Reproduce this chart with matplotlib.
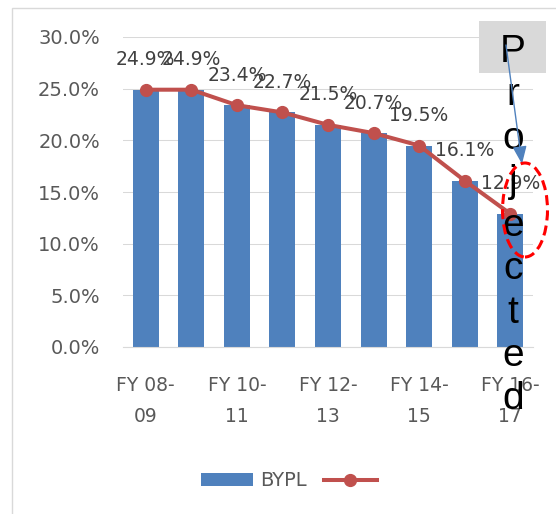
import matplotlib
matplotlib.use('Agg')
import matplotlib.pyplot as plt
from matplotlib.patches import Rectangle, Ellipse, FancyArrowPatch
from matplotlib.ticker import FuncFormatter

categories = ['FY 08-09', 'FY 09-10', 'FY 10-11', 'FY 11-12', 'FY 12-13',
              'FY 13-14', 'FY 14-15', 'FY 15-16', 'FY 16-17']
bypl_values = [24.9, 24.9, 23.4, 22.7, 21.5, 20.7, 19.5, 16.1, 12.9]
series_name = 'BYPL'
y_ticks = [0, 5, 10, 15, 20, 25, 30]
annotation_text = 'Projected'

W, H = 556, 514
fig = plt.figure(figsize=(W / 100, H / 100), dpi=100)


def fx(x):
    return x / W


def fy(y):
    return 1 - y / H


ax = fig.add_axes([fx(123), fy(347), (533 - 123) / W, (347 - 37) / H])
x = list(range(len(categories)))
bars = ax.bar(x, bypl_values, width=0.57, color='#4F81BD', zorder=2)
line, = ax.plot(x, bypl_values, color='#C0504D', lw=2.9, marker='o', ms=8.5, zorder=3)
for xi, v in zip(x, bypl_values):
    ax.annotate(f'{v:.1f}%', (xi, v), xytext=(0, 21.5), textcoords='offset points',
                ha='center', va='center', fontsize=13.5, color='#404040', zorder=4)

ax.set_xlim(-0.5, len(categories) - 0.5)
ax.set_ylim(0, 30)
ax.set_yticks(y_ticks)
ax.yaxis.set_major_formatter(FuncFormatter(lambda v, p: f'{v:.1f}%'))
ax.set_xticks(x[::2])
ax.set_xticklabels([c.replace('-', '-\n') for c in categories[::2]], linespacing=1.8)
ax.tick_params(axis='y', length=0, pad=16.5, labelsize=14, labelcolor='#595959')
ax.tick_params(axis='x', length=0, pad=21, labelsize=13.5, labelcolor='#595959')
for s in ['top', 'right', 'left']:
    ax.spines[s].set_visible(False)
ax.spines['bottom'].set_color('#D9D9D9')
ax.grid(axis='y', color='#D9D9D9', lw=0.75)
ax.set_axisbelow(True)

fig.legend([bars, line], [series_name, ''], loc='center left',
           bbox_to_anchor=(fx(201), fy(481)), frameon=False, ncol=2, fontsize=14,
           handlelength=2.7, handleheight=0.62, handletextpad=0.36, columnspacing=0.88,
           borderpad=0, borderaxespad=0, labelcolor='#595959')

# outer chart border
fig.add_artist(Rectangle((fx(12), -0.1), 1.2, fy(8) + 0.1, transform=fig.transFigure,
                         fill=False, edgecolor='#D9D9D9', lw=1, zorder=1))
# grey text box
fig.add_artist(Rectangle((fx(479), fy(73)), (546 - 479) / W, (73 - 21) / H,
                         transform=fig.transFigure, facecolor='#D9D9D9',
                         edgecolor='none', zorder=5))
fig.text(fx(513), fy(34), '\n'.join(annotation_text), ha='center', va='top',
         fontsize=28, family='Liberation Sans', linespacing=1.265, color='black', zorder=6)
# arrow
fig.add_artist(FancyArrowPatch((fx(506), fy(45)), (fx(522), fy(164)),
                               transform=fig.transFigure,
                               arrowstyle='-|>,head_length=1.08,head_width=0.43',
                               mutation_scale=10, color='#4F81BD', lw=1,
                               shrinkA=0, shrinkB=0, zorder=7))
fig.add_artist(Ellipse((fx(525), fy(210)), 45 / W, 94 / H, transform=fig.transFigure,
                       fill=False, edgecolor='#FF0000', lw=2.2,
                       linestyle=(0, (3.3, 1.7)), zorder=8))

fig.savefig('out.png', dpi=100)
